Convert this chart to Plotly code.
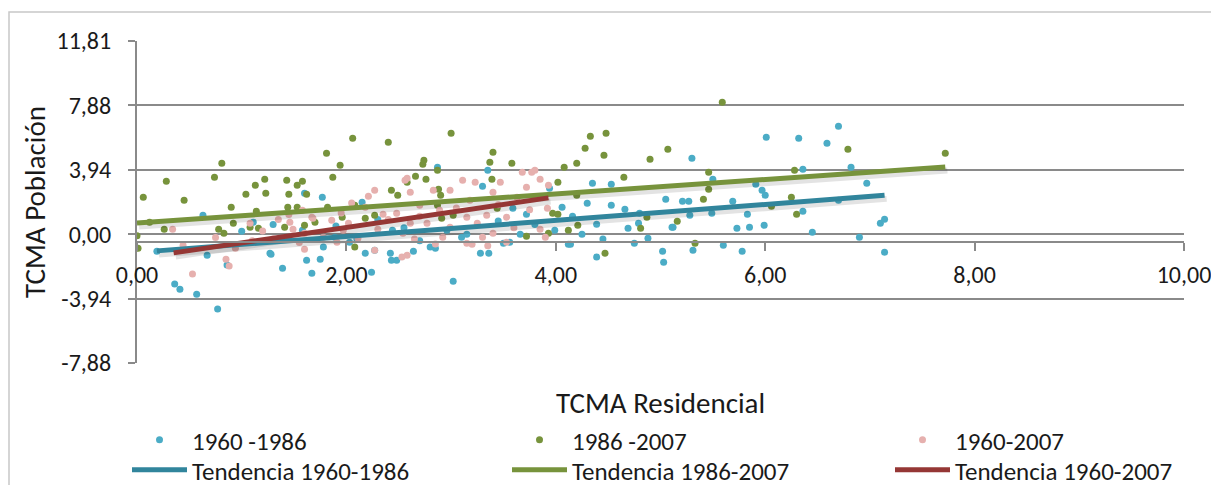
import plotly.graph_objects as go

# ---------------- data ----------------
blue_x = [0.63, 0.19, 0.67, 0.36, 0.41, 0.57, 0.77, 1.00, 0.86, 1.11, 1.27,
          1.77, 1.60, 1.28, 1.39, 1.62, 1.67, 1.78, 1.75, 1.89, 2.03, 2.18, 2.24, 2.27, 2.42, 2.43, 2.48, 2.15, 1.58, 2.44,
          3.35, 3.30, 3.02, 2.64, 2.80, 2.85, 3.28, 3.36, 3.50, 3.56, 3.66, 3.72, 3.10, 3.15, 2.96, 3.59, 2.87,
          4.35, 4.53, 4.30, 4.53, 4.66, 4.80, 5.05, 4.06, 4.16, 4.39, 4.69, 4.79, 4.88, 4.75, 5.02, 5.03, 4.39, 4.12, 4.14, 3.99, 5.11, 3.94,
          5.30, 6.01, 6.32, 5.50, 5.91, 5.97, 6.00, 6.36, 5.21, 5.27, 5.69, 5.28, 5.49, 5.83, 5.12, 5.73, 5.85, 5.99, 5.60, 5.31, 5.78, 6.36,
          6.70, 6.59, 6.82, 6.97, 6.70, 6.45, 6.90, 7.10, 7.14, 7.14,
          1.30, 1.45, 1.90, 2.10, 2.30, 2.55, 2.70, 3.45, 3.80, 4.25, 4.45]
blue_y = [1.16, -1.04, -1.28, -3.05, -3.36, -3.67, -4.58, 0.18, -1.89, 0.73, -1.16,
          2.26, 2.50, -1.22, -2.08, -1.59, -2.38, -0.79, -1.53, -0.18, -0.49, -1.16, -2.32, -0.98, -1.16, -1.59, -1.59, 1.95, 0.24, 0.24,
          3.91, 2.93, -2.87, -1.04, -0.79, -0.86, -1.16, -1.16, -0.55, -0.49, 0.00, 1.22, -0.18, 0.00, 0.24, 1.59, 4.09,
          3.12, 3.05, 1.89, 1.77, 1.53, 1.28, 2.14, 1.65, 1.10, 0.61, 0.37, 0.67, -0.24, -0.55, -1.04, -1.71, -1.40, -0.61, -0.61, 0.24, 0.43, 2.81,
          4.64, 5.93, 5.86, 3.36, 3.05, 2.69, 2.38, 3.97, 2.02, 2.02, 2.02, 1.16, 1.28, 1.22, 0.43, 0.37, 0.43, 0.55, -0.67, -0.98, -1.04, 1.40,
          6.60, 5.56, 4.09, 3.12, 2.08, 0.12, -0.18, 0.67, 0.92, -1.10,
          0.60, -0.20, 0.50, -0.30, 0.90, 0.40, -0.40, 0.80, 0.60, 0.00, -0.30]

green_x = [0.01, 0.00, 0.06, 0.28, 0.45, 0.81, 0.74, 0.26, 0.12, 0.90, 1.04, 1.13, 1.22, 1.23, 1.14, 0.78, 0.83, 0.92, 1.08, 1.16,
           1.43, 1.53, 1.58, 1.45, 1.62, 1.81, 1.94, 1.87, 2.06, 2.40, 1.44, 1.53, 1.82, 2.08, 2.08, 2.43, 2.49, 2.18, 1.41, 1.60, 1.70, 1.96, 2.27,
           3.00, 2.74, 2.73, 2.66, 2.76, 2.87, 3.40, 3.37, 3.58, 3.39, 2.88, 2.90, 2.87, 2.91, 3.02, 3.44, 3.72, 2.58,
           4.33, 4.48, 4.28, 4.46, 4.20, 4.08, 4.02, 4.65, 4.90, 5.07, 4.20, 3.97, 4.02, 4.21, 4.12, 4.47, 4.87, 4.81, 3.93,
           5.59, 5.46, 5.46, 5.41, 5.16, 5.33, 6.28, 6.25, 6.30, 6.06,
           6.79, 7.72]
green_y = [-0.86, -0.10, 2.26, 3.24, 2.08, 4.34, 3.48, 0.31, 0.73, 1.65, 2.44, 2.99, 3.36, 2.50, 1.40, 0.31, 0.06, 0.67, 0.43, 0.37,
           3.30, 2.99, 3.24, 2.44, 2.44, 4.95, 4.21, 3.48, 5.86, 5.62, 1.65, 1.65, 1.65, 1.77, -0.79, 2.69, 2.38, 0.98, 0.43, 0.55, 0.73, 1.04, 1.16,
           6.17, 4.52, 4.28, 3.54, 3.36, 3.91, 5.01, 4.40, 4.34, 3.36, 2.75, 2.38, 1.77, 0.98, 1.16, 1.59, -0.12, 3.17,
           5.99, 6.17, 5.25, 4.83, 4.34, 4.09, 3.17, 3.48, 4.58, 5.19, 2.38, 1.28, 1.22, 0.55, 0.24, -1.16, 1.04, 0.37, 0.06,
           8.06, 3.79, 2.75, 2.14, 0.79, -0.55, 3.91, 2.26, 1.22, 1.71,
           5.19, 4.95]

pink_x = [0.34, 0.44, 0.53, 0.85, 0.88, 1.08, 0.94,
          1.58, 1.68, 1.49, 1.60, 1.78, 1.91, 1.97, 2.21, 2.27, 2.18, 2.35, 2.48, 2.27, 2.53, 2.56, 1.67, 1.46, 2.02, 2.11, 1.86, 1.60,
          2.58, 2.61, 2.83, 2.99, 3.11, 3.23, 3.47, 3.68, 3.77, 3.72, 3.63, 3.40, 3.18, 2.70, 2.89, 3.15, 3.34, 3.53, 2.61, 2.77, 2.99, 3.25,
          3.40, 3.53, 3.15, 3.20, 2.54, 2.58, 2.92, 3.30,
          3.80, 3.85, 3.93, 3.92, 3.90, 3.82,
          1.20, 1.30, 1.35, 1.10, 0.75, 1.45, 1.55, 2.30, 2.40, 2.05, 1.95, 2.65, 2.70, 3.05, 3.45, 3.60, 3.75, 3.85, 2.85, 3.35]
pink_y = [0.31, -0.67, -2.44, -1.53, -1.95, 0.67, -0.86,
          1.47, 0.98, 0.31, -0.92, -0.18, -0.49, 0.24, 2.32, 2.69, 1.65, 1.22, 1.28, -0.98, -1.40, 3.30, 1.04, 0.73, 0.67, -0.24, 0.86, 0.06,
          3.42, 2.57, 2.69, 2.69, 3.30, 3.17, 3.17, 3.79, 3.79, 2.87, 2.26, 2.57, 2.08, 1.77, 1.47, 1.04, 1.16, 1.04, 0.67, 0.67, 0.43, 0.67,
          0.06, -0.49, -0.55, -0.61, 0.06, -1.28, -0.18, -0.18,
          3.91, 3.36, 2.99, 1.59, -0.18, 2.26,
          0.20, -0.30, 0.90, -0.40, -0.20, 1.20, -0.50, 0.30, 0.90, 1.90, 1.30, -0.30, 1.10, 1.60, 1.80, 0.40, 1.50, 0.30, -0.60, -0.70]

# trend lines (end points)
trend_blue_x = [0.19, 7.14]
trend_blue_y = [-1.02, 2.38]
trend_green_x = [0.00, 7.72]
trend_green_y = [0.69, 4.11]
trend_red_x = [0.35, 3.93]
trend_red_y = [-1.14, 2.22]

y_ticks = [-7.875, -3.9375, 0.0, 3.9375, 7.875, 11.8125]
y_labels = ["-7,88", "-3,94", "0,00", "3,94", "7,88", "11,81"]
x_ticks = [0, 2, 4, 6, 8, 10]
x_labels = ["0,00", "2,00", "4,00", "6,00", "8,00", "10,00"]

FONT = "Carlito, Lato, 'Liberation Sans', sans-serif"
TXT = "#1a1a1a"
C_BLUE = "#4BACC6"
C_GREEN = "#77933C"
C_PINK = "#E6B0AE"
T_BLUE = "#31859C"
T_GREEN = "#77933C"
T_RED = "#953735"

fig = go.Figure()

fig.add_trace(go.Scatter(x=blue_x, y=blue_y, mode="markers", name="1960 -1986", legend="legend",
                         marker=dict(color=C_BLUE, size=7)))
fig.add_trace(go.Scatter(x=green_x, y=green_y, mode="markers", name="1986 -2007", legend="legend2",
                         marker=dict(color=C_GREEN, size=7)))
fig.add_trace(go.Scatter(x=pink_x, y=pink_y, mode="markers", name="1960-2007", legend="legend3",
                         marker=dict(color=C_PINK, size=7)))

# soft shadows of trend lines
for tx, ty in [(trend_blue_x, trend_blue_y), (trend_green_x, trend_green_y), (trend_red_x, trend_red_y)]:
    fig.add_trace(go.Scatter(x=[v + 0.02 for v in tx], y=[v - 0.22 for v in ty], mode="lines",
                             line=dict(color="rgba(0,0,0,0.11)", width=6),
                             showlegend=False, hoverinfo="skip"))

fig.add_trace(go.Scatter(x=trend_blue_x, y=trend_blue_y, mode="lines", name="Tendencia 1960-1986",
                         legend="legend4", line=dict(color=T_BLUE, width=5)))
fig.add_trace(go.Scatter(x=trend_green_x, y=trend_green_y, mode="lines", name="Tendencia 1986-2007",
                         legend="legend5", line=dict(color=T_GREEN, width=5)))
fig.add_trace(go.Scatter(x=trend_red_x, y=trend_red_y, mode="lines", name="Tendencia 1960-2007",
                         legend="legend6", line=dict(color=T_RED, width=5)))

# The page body adds an 8px offset; lay the figure out in window pixels minus that offset.
OFF = 8
W, H = 1219 - OFF, 485 - OFF
plot_left, plot_right, plot_top, plot_bottom = 137 - OFF, 1184 - OFF, 41 - OFF, 363 - OFF
L, R, T, B = plot_left, W - plot_right, plot_top, H - plot_bottom
plot_w = plot_right - plot_left
plot_h = plot_bottom - plot_top
axis_px = 242 - OFF  # pixel row of the horizontal axis line
x_axis_pos = (plot_bottom - axis_px) / plot_h


def leg(col_px, row_center_px):
    return dict(orientation="v", yref="container", xref="container", yanchor="top", xanchor="left",
                x=(col_px - OFF) / W, y=1 - (row_center_px - 23 - OFF) / H, itemwidth=55,
                font=dict(size=25, family=FONT, color=TXT), bgcolor="rgba(0,0,0,0)")


cols = [127, 507, 890]
rows = [440, 470]

fig.update_layout(
    width=W, height=H,
    margin=dict(l=L, r=R, t=T, b=B, autoexpand=False),
    paper_bgcolor="white", plot_bgcolor="white",
    font=dict(family=FONT, size=24, color=TXT),
    xaxis=dict(range=[0, 10], tickvals=x_ticks, ticktext=x_labels,
               showgrid=False, zeroline=False,
               showline=True, linecolor="#8a8a8a", linewidth=2,
               ticks="outside", ticklen=8, tickwidth=2, tickcolor="#8a8a8a",
               anchor="free", position=x_axis_pos, ticklabelstandoff=3,
               tickfont=dict(size=24, family=FONT, color=TXT)),
    yaxis=dict(range=[y_ticks[0], y_ticks[-1]], tickvals=y_ticks, ticktext=y_labels,
               showgrid=True, gridcolor="#8a8a8a", gridwidth=2, zeroline=False,
               showline=True, linecolor="#8a8a8a", linewidth=2,
               ticks="outside", ticklen=7, tickwidth=2, tickcolor="#8a8a8a",
               ticklabelstandoff=12,
               tickfont=dict(size=24, family=FONT, color=TXT)),
    legend=leg(cols[0], rows[0]),
    legend2=leg(cols[1], rows[0]),
    legend3=leg(cols[2], rows[0]),
    legend4=leg(cols[0], rows[1]),
    legend5=leg(cols[1], rows[1]),
    legend6=leg(cols[2], rows[1]),
    annotations=[
        dict(text="TCMA Residencial", xref="paper", yref="paper", x=0.5, y=(363 - 403) / plot_h,
             showarrow=False, xanchor="center", yanchor="middle",
             font=dict(size=29, family=FONT, color=TXT)),
        dict(text="TCMA Población", xref="paper", yref="paper", x=(35 - 137) / plot_w, y=0.5,
             showarrow=False, xanchor="center", yanchor="middle", textangle=-90,
             font=dict(size=29, family=FONT, color=TXT)),
    ],
    shapes=[
        dict(type="rect", xref="paper", yref="paper",
             x0=(9 - 137) / plot_w, x1=1.2, y0=-1.0, y1=(363 - 12) / plot_h,
             line=dict(color="#c8c8c8", width=1.5), fillcolor="rgba(0,0,0,0)", layer="below"),
    ],
)

fig.write_html("out.html")
